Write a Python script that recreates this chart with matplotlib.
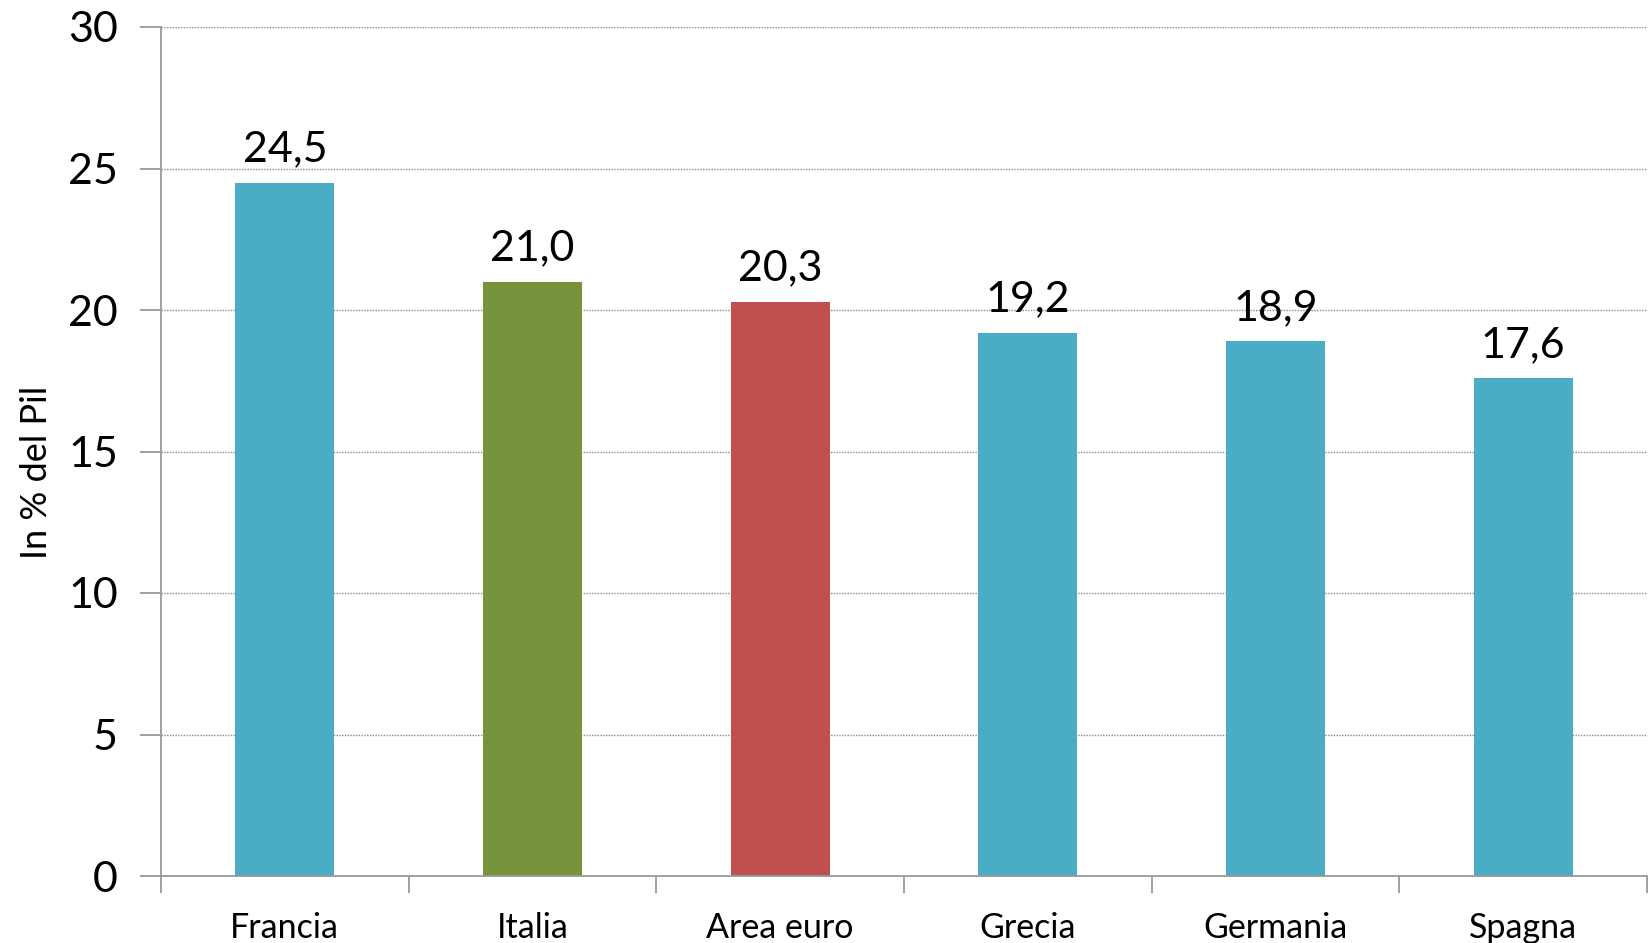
import matplotlib.pyplot as plt

paesi = ["Francia", "Italia", "Area euro", "Grecia", "Germania", "Spagna"]
valori = [24.5, 21.0, 20.3, 19.2, 18.9, 17.6]
colori = ["#4BACC6", "#77933C", "#C0504D", "#4BACC6", "#4BACC6", "#4BACC6"]

plt.rcParams["font.family"] = ["Lato", "DejaVu Sans"]

fig = plt.figure(figsize=(16.48, 9.43), dpi=100)
ax = fig.add_axes([161 / 1648, 1 - 876 / 943, (1647 - 161) / 1648, (876 - 27) / 943])

x = range(len(paesi))
ax.bar(x, valori, width=0.4, color=colori, zorder=2)
for i, v in enumerate(valori):
    ax.text(i, v + 0.5, f"{v:.1f}".replace(".", ","), ha="center", va="bottom", fontsize=31)

ax.set_xlim(-0.5, len(paesi) - 0.5)
ax.set_ylim(0, 30)
ax.set_yticks(range(0, 31, 5))
ax.tick_params(axis="y", labelsize=31, length=15, width=1.3, color="#999999", pad=16)
ax.set_xticks([i - 0.5 for i in range(len(paesi) + 1)], minor=False)
ax.set_xticklabels([])
ax.set_xticks(list(x), minor=True)
ax.set_xticklabels(paesi, minor=True)
ax.tick_params(axis="x", which="major", length=12, width=1.3, color="#999999")
ax.tick_params(axis="x", which="minor", length=0, labelsize=24.5, pad=26)

ax.grid(axis="y", linestyle=(0, (1, 1)), color="#888888", linewidth=1, zorder=0)
for s in ["top", "right"]:
    ax.spines[s].set_visible(False)
for s in ["left", "bottom"]:
    ax.spines[s].set_color("#999999")
    ax.spines[s].set_linewidth(1.3)

ax.set_ylabel("In % del Pil", fontsize=26)
ax.yaxis.set_label_coords(-0.073, 0.475)

plt.savefig("out.png", dpi=100)
